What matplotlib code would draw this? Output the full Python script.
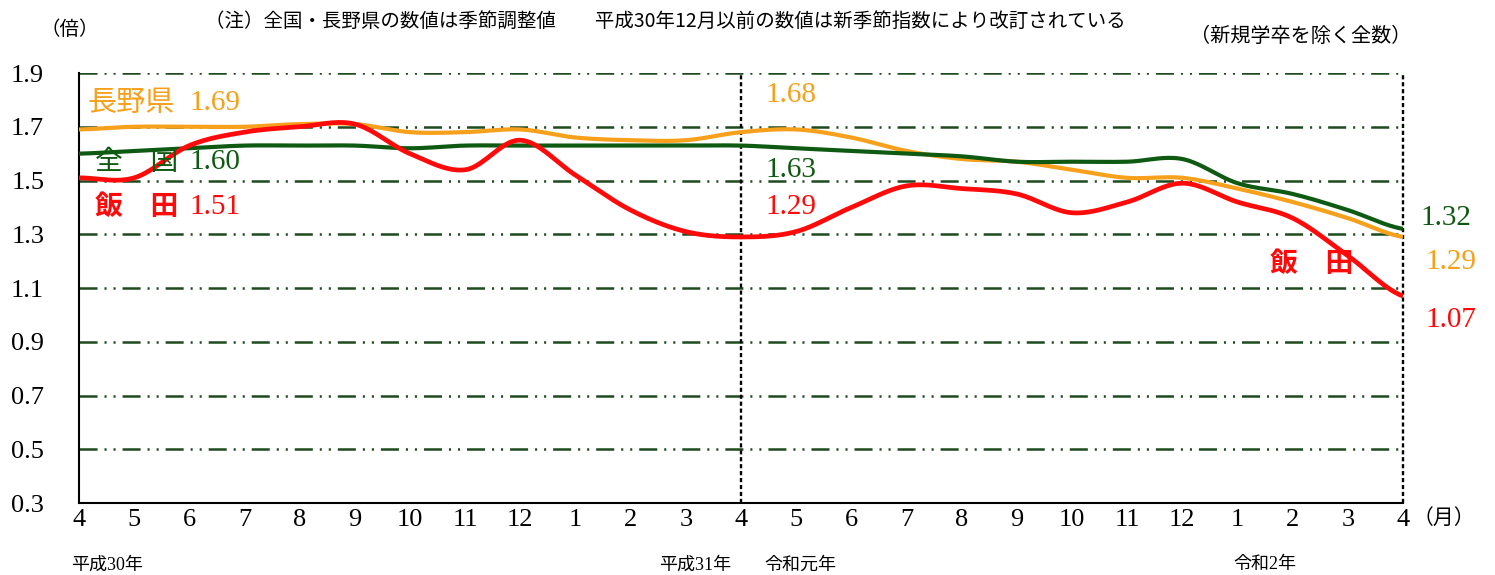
import numpy as np
import matplotlib
matplotlib.use("Agg")
import matplotlib.pyplot as plt

plt.rcParams["font.family"] = ["Liberation Serif", "Noto Sans CJK JP"]
plt.rcParams["lines.scale_dashes"] = False

# データ（平成30年4月～令和2年4月）
months = ["4", "5", "6", "7", "8", "9", "10", "11", "12", "1", "2", "3",
          "4", "5", "6", "7", "8", "9", "10", "11", "12", "1", "2", "3", "4"]
nagano = [1.69, 1.70, 1.70, 1.70, 1.71, 1.71, 1.68, 1.68, 1.69, 1.66, 1.65, 1.65,
          1.68, 1.69, 1.66, 1.61, 1.58, 1.57, 1.54, 1.51, 1.51, 1.47, 1.42, 1.36, 1.29]
zenkoku = [1.60, 1.61, 1.62, 1.63, 1.63, 1.63, 1.62, 1.63, 1.63, 1.63, 1.63, 1.63,
           1.63, 1.62, 1.61, 1.60, 1.59, 1.57, 1.57, 1.57, 1.58, 1.49, 1.45, 1.39, 1.32]
iida = [1.51, 1.51, 1.63, 1.68, 1.70, 1.71, 1.60, 1.54, 1.65, 1.52, 1.39, 1.31,
        1.29, 1.31, 1.40, 1.48, 1.47, 1.45, 1.38, 1.42, 1.49, 1.42, 1.36, 1.22, 1.07]
yticks = [0.3, 0.5, 0.7, 0.9, 1.1, 1.3, 1.5, 1.7, 1.9]
era_labels = [(0.5, "平成30年"), (11.17, "平成31年"), (13.07, "令和元年"), (21.5, "令和2年")]

ORANGE = "#F7A01C"
GREEN = "#0F5A12"
RED = "#FF0A0A"
GRID = "#1F4A1F"
SANS = ["Noto Sans CJK JP", "DejaVu Sans"]


def smooth(ys, n=20):
    """Excelの平滑線のようにCatmull-Romで曲線にする"""
    p = np.array(ys, dtype=float)
    p = np.concatenate([[p[0]], p, [p[-1]]])
    xs_out, ys_out = [], []
    for i in range(1, len(p) - 2):
        t = np.linspace(0, 1, n, endpoint=False)
        p0, p1, p2, p3 = p[i - 1], p[i], p[i + 1], p[i + 2]
        y = 0.5 * ((2 * p1) + (-p0 + p2) * t + (2 * p0 - 5 * p1 + 4 * p2 - p3) * t ** 2
                   + (-p0 + 3 * p1 - 3 * p2 + p3) * t ** 3)
        xs_out.extend(i - 1 + t)
        ys_out.extend(y)
    xs_out.append(len(ys) - 1)
    ys_out.append(ys[-1])
    return np.array(xs_out), np.array(ys_out)


fig = plt.figure(figsize=(14.95, 5.75), dpi=100)
ax = fig.add_axes([0.0528, 0.1252, 0.8857, 0.7478])
x = np.arange(len(months))

for v in yticks[1:]:
    ax.axhline(v, color=GRID, linewidth=1.8, dashes=(13, 5, 1.5, 5, 1.5, 5), zorder=1)
ax.axvline(12, color="black", linewidth=1.7, dashes=(3, 2), zorder=1)
ax.axvline(24, color="black", linewidth=1.7, dashes=(3, 2), zorder=1, clip_on=False)

for ys, c, lw in [(nagano, ORANGE, 3.0), (zenkoku, GREEN, 3.0), (iida, RED, 3.4)]:
    sx, sy = smooth(ys)
    ax.plot(sx, sy, color=c, linewidth=lw, solid_capstyle="butt", zorder=3)

ax.set_xlim(0, 24)
ax.set_ylim(0.3, 1.9)
ax.set_xticks(x)
ax.set_xticklabels(months, fontsize=19)
ax.set_yticks(yticks)
ax.set_yticklabels([f"{v:.1f}" for v in yticks], fontsize=19)
ax.tick_params(axis="both", length=0)
ax.tick_params(axis="y", pad=25)
ax.tick_params(axis="x", pad=4)
for s in ["top", "right"]:
    ax.spines[s].set_visible(False)
ax.spines["left"].set_linewidth(1.5)
ax.spines["bottom"].set_linewidth(1.5)

# 系列ラベル
fs = 21
ax.text(0.16, 1.79, "長野県", color=ORANGE, fontsize=fs, va="center", family=SANS)
ax.text(2.0, 1.79, "1.69", color=ORANGE, fontsize=fs, va="center")
ax.text(0.29, 1.57, "全　国", color=GREEN, fontsize=20, va="center", family=SANS)
ax.text(2.0, 1.57, "1.60", color=GREEN, fontsize=fs, va="center")
ax.text(0.29, 1.40, "飯　田", color=RED, fontsize=20, va="center", family=SANS, fontweight="bold")
ax.text(2.0, 1.40, "1.51", color=RED, fontsize=fs, va="center")
ax.text(12.44, 1.82, "1.68", color=ORANGE, fontsize=fs, va="center")
ax.text(12.44, 1.54, "1.63", color=GREEN, fontsize=fs, va="center")
ax.text(12.44, 1.40, "1.29", color=RED, fontsize=fs, va="center")
ax.text(24.31, 1.36, "1.32", color=GREEN, fontsize=fs, va="center", clip_on=False)
ax.text(24.40, 1.197, "1.29", color=ORANGE, fontsize=fs, va="center", clip_on=False)
ax.text(24.40, 0.98, "1.07", color=RED, fontsize=fs, va="center", clip_on=False)
ax.text(22.35, 1.19, "飯　田", color=RED, fontsize=20, va="center", ha="center",
        family=SANS, fontweight="bold")

# 注記
fig.text(0.027, 0.948, "（倍）", fontsize=14, va="center", family=SANS)
fig.text(0.137, 0.962, "（注）全国・長野県の数値は季節調整値　　平成30年12月以前の数値は新季節指数により改訂されている",
         fontsize=14, va="center", family=SANS)
fig.text(0.796, 0.936, "（新規学卒を除く全数）", fontsize=14.5, va="center", family=SANS)
fig.text(0.945, 0.099, "（月）", fontsize=15, va="center", family=SANS)
for xi, lab in era_labels:
    ax.text(xi, -0.144, lab, transform=ax.get_xaxis_transform(), fontsize=13,
            ha="center", va="center")

plt.savefig("out.png", dpi=100)
